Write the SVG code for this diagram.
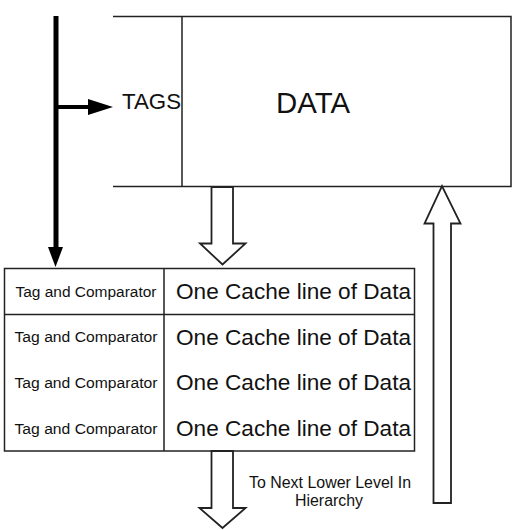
<svg xmlns="http://www.w3.org/2000/svg" width="522" height="530" viewBox="0 0 522 530">
<style>
.ln{fill:none;stroke:#222;stroke-width:1.5}
.hol{fill:#fff;stroke:#222;stroke-width:1.8;stroke-linejoin:miter}
.t{font-family:"Liberation Sans",Arial,sans-serif;fill:#111}
.tag{font-size:15.5px;text-anchor:middle}
.line{font-size:22.5px}
</style>
<rect width="522" height="530" fill="#fff"/>
<g id="cache-box">
<path class="ln" d="M113,16.5 H511 V186.5 H113 M182,16.5 V186.5"/>
<text class="t" x="122" y="109" font-size="22" textLength="59" lengthAdjust="spacingAndGlyphs">TAGS</text>
<text class="t" x="276" y="112.5" font-size="30" textLength="74" lengthAdjust="spacingAndGlyphs">DATA</text>
</g>
<g id="cache-table">
<rect class="ln" x="4.5" y="268.5" width="410" height="182.5"/>
<path class="ln" d="M164,268.5 V451 M4.5,314.5 H414.5"/>
</g>
<g id="row1">
<text class="t tag" x="86" y="297" textLength="141" lengthAdjust="spacingAndGlyphs">Tag and Comparator</text>
<text class="t line" x="176" y="299" textLength="235" lengthAdjust="spacingAndGlyphs">One Cache line of Data</text>
</g>
<g id="row2">
<text class="t tag" x="86" y="342" textLength="143" lengthAdjust="spacingAndGlyphs">Tag and Comparator</text>
<text class="t line" x="176" y="344.5" textLength="235" lengthAdjust="spacingAndGlyphs">One Cache line of Data</text>
</g>
<g id="row3">
<text class="t tag" x="86" y="388" textLength="143" lengthAdjust="spacingAndGlyphs">Tag and Comparator</text>
<text class="t line" x="176" y="390" textLength="235" lengthAdjust="spacingAndGlyphs">One Cache line of Data</text>
</g>
<g id="row4">
<text class="t tag" x="86" y="434" textLength="143" lengthAdjust="spacingAndGlyphs">Tag and Comparator</text>
<text class="t line" x="176" y="435.5" textLength="235" lengthAdjust="spacingAndGlyphs">One Cache line of Data</text>
</g>
<g id="next-level-label">
<text class="t" x="330" y="488" font-size="16" text-anchor="middle" textLength="162" lengthAdjust="spacingAndGlyphs">To Next Lower Level In</text>
<text class="t" x="329" y="506" font-size="16" text-anchor="middle" textLength="68" lengthAdjust="spacingAndGlyphs">Hierarchy</text>
</g>
<g id="connectors">
<path d="M56,16 V250" stroke="#000" stroke-width="5" fill="none"/>
<polygon points="48,247 63,247 55.5,267" fill="#000"/>
<path d="M56,107 H92" stroke="#000" stroke-width="4" fill="none"/>
<polygon points="88,99 113,107 88,115" fill="#000"/>
<polygon class="hol" points="211.5,187 233,187 233,243.5 245.5,243.5 222.5,264.5 200,243.5 211.5,243.5"/>
<polygon class="hol" points="211.5,451 233,451 233,508 245.5,508 222.5,528 199.5,508 211.5,508"/>
<polygon class="hol" points="433.5,503 451,503 451,223.5 460.5,223.5 442,186 424.5,223.5 433.5,223.5"/>
</g>
</svg>
